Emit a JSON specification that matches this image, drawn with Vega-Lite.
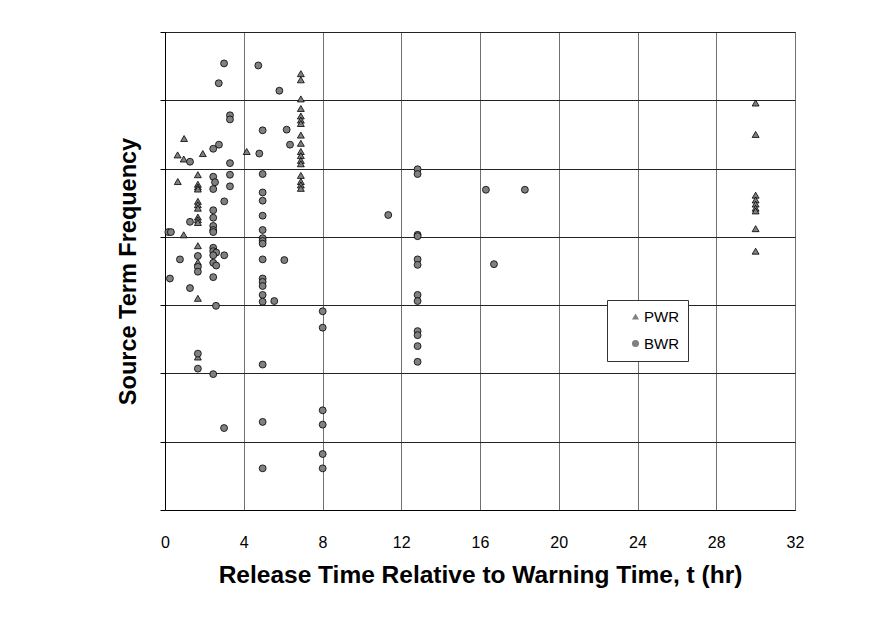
{
  "$schema": "https://vega.github.io/schema/vega-lite/v6.json",
  "autosize": {"type": "none"},
  "padding": {"left": 165, "top": 32, "right": 97, "bottom": 110},
  "width": 630,
  "height": 478,
  "background": "white",
  "config": {
    "font": "Liberation Sans",
    "view": {"stroke": "#333333", "strokeWidth": 1}
  },
  "data": {
    "values": [
      {"t": 6.9, "f": 6.39, "type": "PWR"}, {"t": 6.9, "f": 6.30, "type": "PWR"}, {"t": 6.9, "f": 6.02, "type": "PWR"},
      {"t": 6.9, "f": 5.88, "type": "PWR"}, {"t": 6.9, "f": 5.77, "type": "PWR"}, {"t": 6.9, "f": 5.71, "type": "PWR"},
      {"t": 6.9, "f": 5.66, "type": "PWR"}, {"t": 6.9, "f": 5.49, "type": "PWR"}, {"t": 6.9, "f": 5.37, "type": "PWR"},
      {"t": 6.9, "f": 5.25, "type": "PWR"}, {"t": 6.9, "f": 5.19, "type": "PWR"}, {"t": 6.9, "f": 5.12, "type": "PWR"},
      {"t": 6.9, "f": 5.07, "type": "PWR"}, {"t": 6.9, "f": 4.90, "type": "PWR"}, {"t": 6.9, "f": 4.81, "type": "PWR"},
      {"t": 6.9, "f": 4.76, "type": "PWR"}, {"t": 6.9, "f": 4.71, "type": "PWR"},
      {"t": 0.97, "f": 5.44, "type": "PWR"}, {"t": 0.64, "f": 5.20, "type": "PWR"}, {"t": 0.95, "f": 5.14, "type": "PWR"},
      {"t": 1.92, "f": 5.22, "type": "PWR"}, {"t": 4.15, "f": 5.25, "type": "PWR"}, {"t": 0.65, "f": 4.81, "type": "PWR"},
      {"t": 1.67, "f": 4.91, "type": "PWR"}, {"t": 1.67, "f": 4.77, "type": "PWR"}, {"t": 1.67, "f": 4.73, "type": "PWR"},
      {"t": 1.67, "f": 4.70, "type": "PWR"}, {"t": 1.67, "f": 4.52, "type": "PWR"}, {"t": 1.67, "f": 4.47, "type": "PWR"},
      {"t": 1.67, "f": 4.42, "type": "PWR"}, {"t": 1.67, "f": 4.29, "type": "PWR"}, {"t": 1.67, "f": 4.25, "type": "PWR"},
      {"t": 1.67, "f": 4.21, "type": "PWR"}, {"t": 0.95, "f": 4.03, "type": "PWR"}, {"t": 1.67, "f": 3.87, "type": "PWR"},
      {"t": 1.67, "f": 3.63, "type": "PWR"}, {"t": 1.67, "f": 3.10, "type": "PWR"}, {"t": 1.67, "f": 2.24, "type": "PWR"},
      {"t": 30, "f": 5.96, "type": "PWR"}, {"t": 30, "f": 5.50, "type": "PWR"}, {"t": 30, "f": 4.61, "type": "PWR"},
      {"t": 30, "f": 4.54, "type": "PWR"}, {"t": 30, "f": 4.48, "type": "PWR"}, {"t": 30, "f": 4.42, "type": "PWR"},
      {"t": 30, "f": 4.38, "type": "PWR"}, {"t": 30, "f": 4.12, "type": "PWR"}, {"t": 30, "f": 3.79, "type": "PWR"},
      {"t": 3.0, "f": 6.54, "type": "BWR"}, {"t": 2.73, "f": 6.25, "type": "BWR"}, {"t": 4.74, "f": 6.51, "type": "BWR"},
      {"t": 5.81, "f": 6.14, "type": "BWR"}, {"t": 3.3, "f": 5.78, "type": "BWR"}, {"t": 3.3, "f": 5.72, "type": "BWR"},
      {"t": 4.96, "f": 5.56, "type": "BWR"}, {"t": 6.18, "f": 5.57, "type": "BWR"}, {"t": 6.35, "f": 5.35, "type": "BWR"},
      {"t": 2.45, "f": 5.29, "type": "BWR"}, {"t": 2.74, "f": 5.35, "type": "BWR"}, {"t": 1.27, "f": 5.10, "type": "BWR"},
      {"t": 4.79, "f": 5.22, "type": "BWR"}, {"t": 3.3, "f": 5.08, "type": "BWR"}, {"t": 4.96, "f": 4.92, "type": "BWR"},
      {"t": 3.3, "f": 4.91, "type": "BWR"}, {"t": 3.3, "f": 4.74, "type": "BWR"}, {"t": 2.45, "f": 4.88, "type": "BWR"},
      {"t": 2.54, "f": 4.80, "type": "BWR"}, {"t": 2.45, "f": 4.70, "type": "BWR"}, {"t": 4.96, "f": 4.65, "type": "BWR"},
      {"t": 4.96, "f": 4.53, "type": "BWR"}, {"t": 3.01, "f": 4.52, "type": "BWR"}, {"t": 2.45, "f": 4.39, "type": "BWR"},
      {"t": 2.45, "f": 4.28, "type": "BWR"}, {"t": 4.96, "f": 4.31, "type": "BWR"}, {"t": 1.27, "f": 4.22, "type": "BWR"},
      {"t": 2.45, "f": 4.16, "type": "BWR"}, {"t": 2.45, "f": 4.10, "type": "BWR"}, {"t": 2.45, "f": 4.07, "type": "BWR"},
      {"t": 0.17, "f": 4.07, "type": "BWR"}, {"t": 0.3, "f": 4.07, "type": "BWR"}, {"t": 4.96, "f": 4.10, "type": "BWR"},
      {"t": 4.96, "f": 3.98, "type": "BWR"}, {"t": 4.96, "f": 3.94, "type": "BWR"}, {"t": 4.96, "f": 3.90, "type": "BWR"},
      {"t": 2.45, "f": 3.84, "type": "BWR"}, {"t": 2.45, "f": 3.79, "type": "BWR"}, {"t": 2.6, "f": 3.77, "type": "BWR"},
      {"t": 2.45, "f": 3.73, "type": "BWR"}, {"t": 3.01, "f": 3.73, "type": "BWR"}, {"t": 1.67, "f": 3.72, "type": "BWR"},
      {"t": 0.76, "f": 3.67, "type": "BWR"}, {"t": 2.45, "f": 3.62, "type": "BWR"}, {"t": 2.6, "f": 3.58, "type": "BWR"},
      {"t": 1.67, "f": 3.56, "type": "BWR"}, {"t": 1.67, "f": 3.49, "type": "BWR"}, {"t": 4.96, "f": 3.67, "type": "BWR"},
      {"t": 6.06, "f": 3.66, "type": "BWR"}, {"t": 2.45, "f": 3.41, "type": "BWR"}, {"t": 0.25, "f": 3.39, "type": "BWR"},
      {"t": 4.96, "f": 3.39, "type": "BWR"}, {"t": 4.96, "f": 3.34, "type": "BWR"}, {"t": 4.96, "f": 3.28, "type": "BWR"},
      {"t": 1.27, "f": 3.25, "type": "BWR"}, {"t": 4.96, "f": 3.15, "type": "BWR"}, {"t": 4.96, "f": 3.05, "type": "BWR"},
      {"t": 5.55, "f": 3.06, "type": "BWR"}, {"t": 2.59, "f": 2.99, "type": "BWR"},
      {"t": 1.67, "f": 2.29, "type": "BWR"}, {"t": 1.67, "f": 2.07, "type": "BWR"}, {"t": 4.96, "f": 2.13, "type": "BWR"},
      {"t": 2.45, "f": 1.99, "type": "BWR"}, {"t": 8.01, "f": 2.91, "type": "BWR"}, {"t": 8.01, "f": 2.67, "type": "BWR"},
      {"t": 3.0, "f": 1.20, "type": "BWR"}, {"t": 4.96, "f": 1.29, "type": "BWR"}, {"t": 8.01, "f": 1.46, "type": "BWR"},
      {"t": 8.01, "f": 1.25, "type": "BWR"}, {"t": 8.01, "f": 0.82, "type": "BWR"}, {"t": 8.01, "f": 0.61, "type": "BWR"},
      {"t": 4.96, "f": 0.61, "type": "BWR"},
      {"t": 12.83, "f": 4.99, "type": "BWR"}, {"t": 12.83, "f": 4.92, "type": "BWR"}, {"t": 11.34, "f": 4.32, "type": "BWR"},
      {"t": 12.83, "f": 4.03, "type": "BWR"}, {"t": 12.83, "f": 4.01, "type": "BWR"}, {"t": 12.83, "f": 3.67, "type": "BWR"},
      {"t": 12.83, "f": 3.59, "type": "BWR"}, {"t": 12.83, "f": 3.15, "type": "BWR"}, {"t": 12.83, "f": 3.06, "type": "BWR"},
      {"t": 12.83, "f": 2.62, "type": "BWR"}, {"t": 12.83, "f": 2.56, "type": "BWR"}, {"t": 12.83, "f": 2.40, "type": "BWR"},
      {"t": 12.83, "f": 2.17, "type": "BWR"}, {"t": 16.30, "f": 4.69, "type": "BWR"}, {"t": 18.28, "f": 4.69, "type": "BWR"},
      {"t": 16.71, "f": 3.60, "type": "BWR"}
    ]
  },
  "mark": {"type": "point", "filled": true, "fill": "#808080", "stroke": "#000000", "strokeWidth": 0.8, "opacity": 1, "size": 48},
  "encoding": {
    "x": {
      "field": "t", "type": "quantitative",
      "scale": {"domain": [0, 32], "nice": false, "zero": false},
      "axis": {
        "values": [0, 4, 8, 12, 16, 20, 24, 28, 32],
        "title": "Release Time Relative to Warning Time, t (hr)",
        "titleFont": "Liberation Sans", "titleFontSize": 24.5, "titleFontWeight": "bold", "titleColor": "#000000",
        "titlePadding": 13,
        "labelFont": "Liberation Sans", "labelFontSize": 16, "labelColor": "#000000", "labelPadding": 24,
        "ticks": false, "domain": true, "domainColor": "#000000",
        "grid": true, "gridColor": "#707070", "gridWidth": 1, "gridOpacity": 1,
        "labelFlush": false
      }
    },
    "y": {
      "field": "f", "type": "quantitative",
      "scale": {"domain": [0, 7], "nice": false, "zero": false},
      "axis": {
        "values": [0, 1, 2, 3, 4, 5, 6, 7],
        "title": "Source Term Frequency",
        "titleFont": "Liberation Sans", "titleFontSize": 23.5, "titleFontWeight": "bold", "titleColor": "#000000",
        "titlePadding": 19,
        "labels": false,
        "ticks": true, "tickSize": 5, "tickColor": "#000000",
        "domain": true, "domainColor": "#000000",
        "grid": true, "gridColor": "#222222", "gridWidth": 1, "gridOpacity": 1
      }
    },
    "shape": {
      "field": "type", "type": "nominal",
      "scale": {"domain": ["PWR", "BWR"], "range": ["triangle-up", "circle"]},
      "legend": {
        "title": null,
        "orient": "none", "legendX": 442, "legendY": 268,
        "fillColor": "white", "strokeColor": "#333333",
        "padding": 9,
        "labelFont": "Liberation Sans", "labelFontSize": 15, "labelColor": "#000000",
        "symbolFillColor": "#808080", "symbolStrokeColor": "#000000", "symbolStrokeWidth": 0.8,
        "symbolSize": 50, "symbolOffset": 12, "labelOffset": 1,
        "rowPadding": 11
      }
    }
  }
}
